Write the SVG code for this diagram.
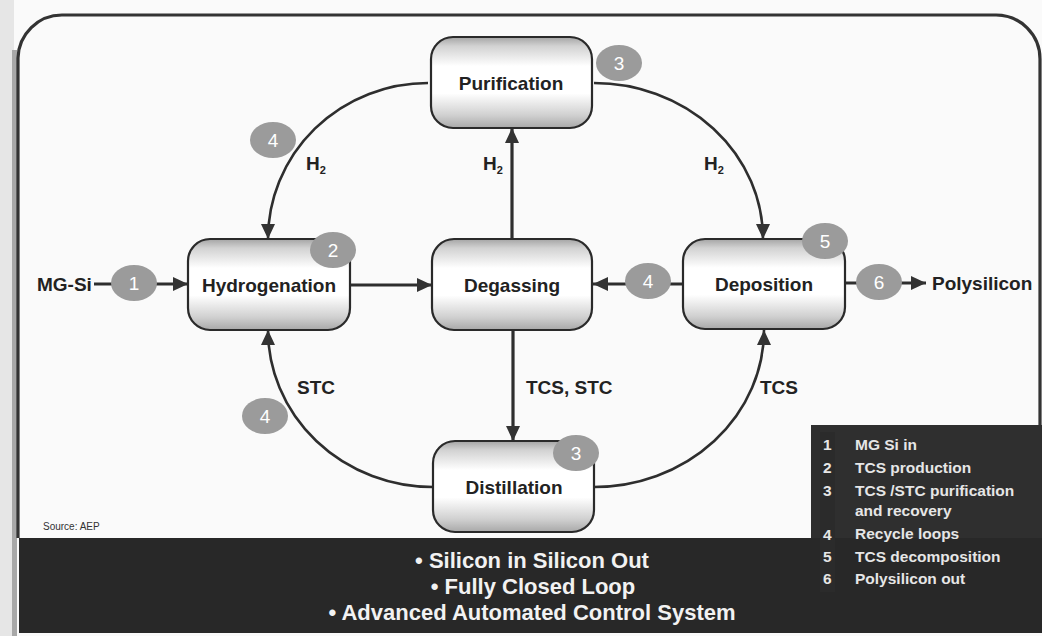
<svg xmlns="http://www.w3.org/2000/svg" width="1042" height="636" viewBox="0 0 1042 636">
<defs>
<linearGradient id="ng" x1="0" y1="0" x2="0" y2="1">
<stop offset="0" stop-color="#a4a4a4"/>
<stop offset="0.1" stop-color="#d2d2d2"/>
<stop offset="0.32" stop-color="#ffffff"/>
<stop offset="0.62" stop-color="#ffffff"/>
<stop offset="0.86" stop-color="#d0d0d0"/>
<stop offset="1" stop-color="#a8a8a8"/>
</linearGradient>
<marker id="ah" markerUnits="userSpaceOnUse" markerWidth="16" markerHeight="14" refX="15" refY="7" orient="auto">
<path d="M0,0 L15,7 L0,14 Z" fill="#333"/>
</marker>
<style>
.node rect{fill:url(#ng);stroke:#2a2a2a;stroke-width:2.2}
.lbl{font-family:"Liberation Sans",Arial,sans-serif;font-weight:bold;font-size:19px;fill:#222}
.ctr{text-anchor:middle}
.badge ellipse{fill:#9b9b9b}
.badge text{font-family:"Liberation Sans",Arial,sans-serif;font-size:19px;fill:#fff;text-anchor:middle}
.con{fill:none;stroke:#2e2e2e;stroke-width:3.2}
.arc{fill:none;stroke:#2e2e2e;stroke-width:2.6}
.band{font-family:"Liberation Sans",Arial,sans-serif;font-weight:bold;font-size:22px;fill:#f2f2f2;text-anchor:middle}
.leg{font-family:"Liberation Sans",Arial,sans-serif;font-weight:bold;font-size:15.5px;fill:#e6e6e6}
</style>
</defs>
<rect x="0" y="0" width="1042" height="636" fill="#fafafa"/>
<rect x="0" y="0" width="14" height="636" fill="#e6e6e6"/>
<rect x="12" y="50" width="5" height="586" fill="#a8a8a8"/>
<path d="M18 538 L18 58 A44 44 0 0 1 62 15 L996 15 A44 44 0 0 1 1040 59 L1040 425" fill="none" stroke="#333" stroke-width="3.2"/>
<g id="legend">
<rect x="811" y="425" width="231" height="113" fill="#2f2f2f"/>
<rect x="19" y="538" width="1023" height="95" fill="#282828"/>
<rect x="820" y="432" width="15" height="160" fill="#2b2b2b"/>
<text class="leg" x="823" y="450">1</text><text class="leg" x="855" y="450">MG Si in</text>
<text class="leg" x="823" y="473">2</text><text class="leg" x="855" y="473">TCS production</text>
<text class="leg" x="823" y="496">3</text><text class="leg" x="855" y="496">TCS /STC purification</text>
<text class="leg" x="855" y="516">and recovery</text>
<text class="leg" x="823" y="540">4</text><text class="leg" x="855" y="539">Recycle loops</text>
<text class="leg" x="823" y="562">5</text><text class="leg" x="855" y="562">TCS decomposition</text>
<text class="leg" x="823" y="584">6</text><text class="leg" x="855" y="584">Polysilicon out</text>
</g>
<g id="summary">
<text class="band" x="532" y="568">• Silicon in Silicon Out</text>
<text class="band" x="533" y="594">• Fully Closed Loop</text>
<text class="band" x="532" y="620">• Advanced Automated Control System</text>
</g>
<text x="43" y="530" font-family="'Liberation Sans',Arial,sans-serif" font-size="10" fill="#333">Source: AEP</text>
<g id="connectors">
<path class="con" d="M94 284 L188 284" marker-end="url(#ah)"/>
<path class="con" d="M350 285 L432 285" marker-end="url(#ah)"/>
<path class="con" d="M683 284 L593 284" marker-end="url(#ah)"/>
<path class="con" d="M845 283 L926 283" marker-end="url(#ah)"/>
<path class="con" d="M512 239 L512 128" marker-end="url(#ah)"/>
<path class="con" d="M513 330 L513 441" marker-end="url(#ah)"/>
<path class="arc" d="M428 83 A160 156 0 0 0 268 239" marker-end="url(#ah)"/>
<path class="arc" d="M594 83 A169 156 0 0 1 763 239" marker-end="url(#ah)"/>
<path class="arc" d="M433 487 A165 157 0 0 1 268 330" marker-end="url(#ah)"/>
<path class="arc" d="M594 487 A170 157 0 0 0 764 330" marker-end="url(#ah)"/>
<text class="lbl" x="306" y="170" font-size="17">H<tspan font-size="11" dy="4">2</tspan></text>
<text class="lbl" x="483" y="170" font-size="17">H<tspan font-size="11" dy="4">2</tspan></text>
<text class="lbl" x="704" y="170" font-size="17">H<tspan font-size="11" dy="4">2</tspan></text>
<text class="lbl" x="297" y="394">STC</text>
<text class="lbl" x="526" y="394">TCS, STC</text>
<text class="lbl" x="760" y="394">TCS</text>
<text class="lbl" x="37" y="291">MG-Si</text>
<text class="lbl" x="932" y="290">Polysilicon</text>
</g>
<g id="purification" class="node"><rect x="431" y="37" width="161" height="91" rx="22"/><text class="lbl ctr" x="511" y="90">Purification</text></g>
<g id="hydrogenation" class="node"><rect x="188" y="239" width="162" height="91" rx="22"/><text class="lbl ctr" x="269" y="292">Hydrogenation</text></g>
<g id="degassing" class="node"><rect x="432" y="239" width="160" height="91" rx="22"/><text class="lbl ctr" x="512" y="292">Degassing</text></g>
<g id="deposition" class="node"><rect x="683" y="239" width="162" height="90" rx="22"/><text class="lbl ctr" x="764" y="291">Deposition</text></g>
<g id="distillation" class="node"><rect x="433" y="441" width="161" height="91" rx="22"/><text class="lbl ctr" x="514" y="494">Distillation</text></g>
<g id="badges">
<g class="badge"><ellipse cx="134" cy="283" rx="23" ry="18"/><text x="134" y="290">1</text></g>
<g class="badge"><ellipse cx="333" cy="250" rx="23" ry="18"/><text x="333" y="257">2</text></g>
<g class="badge"><ellipse cx="619" cy="63" rx="23" ry="18"/><text x="619" y="70">3</text></g>
<g class="badge"><ellipse cx="273" cy="140" rx="23" ry="18"/><text x="273" y="147">4</text></g>
<g class="badge"><ellipse cx="648" cy="281" rx="23" ry="18"/><text x="648" y="288">4</text></g>
<g class="badge"><ellipse cx="825" cy="241" rx="23" ry="18"/><text x="825" y="248">5</text></g>
<g class="badge"><ellipse cx="879" cy="282" rx="23" ry="18"/><text x="879" y="289">6</text></g>
<g class="badge"><ellipse cx="265" cy="416" rx="23" ry="18"/><text x="265" y="423">4</text></g>
<g class="badge"><ellipse cx="576" cy="453" rx="23" ry="18"/><text x="576" y="460">3</text></g>
</g>
</svg>
